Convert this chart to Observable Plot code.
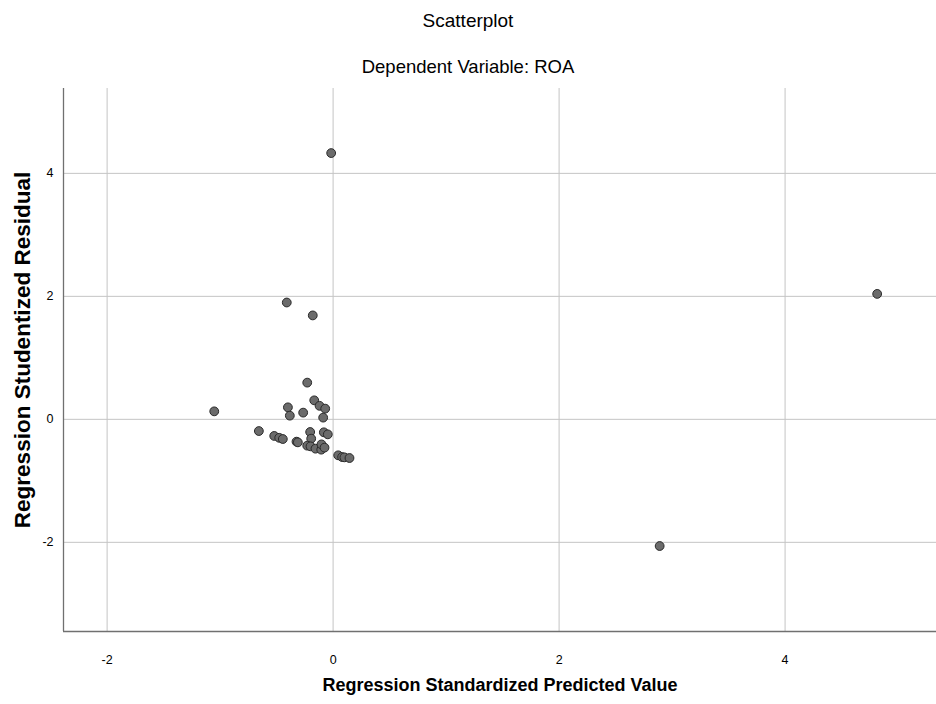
<!DOCTYPE html>
<html>
<head>
<meta charset="utf-8">
<script src="https://cdn.jsdelivr.net/npm/d3@7"></script>
<script src="https://cdn.jsdelivr.net/npm/@observablehq/plot@0.6"></script>
<style>
  html, body { margin: 0; padding: 0; background: #fff; }
  #wrap { position: relative; width: 936px; height: 704px; overflow: hidden; font-family: "Liberation Sans", Arial, sans-serif; }
  .ttl { position: absolute; left: 0; width: 936px; text-align: center; line-height: 1; color: #000; }
  #chart { position: absolute; left: 0; top: 80px; }
</style>
</head>
<body>
<div id="wrap">
  <div class="ttl" style="top:11px;font-size:19px;">Scatterplot</div>
  <div class="ttl" style="top:58px;font-size:18.5px;">Dependent Variable: ROA</div>
  <div id="chart"></div>
</div>
<script>
// Regression Standardized Predicted Value
const predicted = [-0.017, -0.41, -0.18, 4.815, 2.89,
  -0.229, -1.052, -0.40, -0.383, -0.265, -0.167, -0.12, -0.07, -0.088,
  -0.657, -0.521, -0.477, -0.445, -0.324, -0.312, -0.203, -0.194, -0.229,
  -0.20, -0.156, -0.105, -0.082, -0.047, -0.103, -0.076, 0.045, 0.08, 0.10, 0.145];
// Regression Studentized Residual
const residual = [4.33, 1.90, 1.69, 2.04, -2.06,
  0.597, 0.13, 0.195, 0.06, 0.109, 0.309, 0.22, 0.174, 0.028,
  -0.19, -0.27, -0.30, -0.32, -0.363, -0.374, -0.206, -0.314, -0.428,
  -0.439, -0.477, -0.493, -0.211, -0.244, -0.407, -0.46, -0.585, -0.613, -0.618, -0.629];
const xTicks = [-2, 0, 2, 4];
const yTicks = [-2, 0, 2, 4];
const xDomain = [-2.386, 5.34];
const yDomain = [-3.45, 5.38];
const xLabel = "Regression Standardized Predicted Value";
const yLabel = "Regression Studentized Residual";

const data = predicted.map((x, i) => ({x, y: residual[i]}));
const fmt = d => `${d}`;

const chart = Plot.plot({
  width: 936,
  height: 624,
  marginTop: 8,
  marginLeft: 63,
  marginRight: 0,
  marginBottom: 73,
  style: {fontFamily: '"Liberation Sans", Arial, sans-serif', fontSize: "12.5px", color: "#000", background: "#fff"},
  x: {domain: xDomain},
  y: {domain: yDomain},
  marks: [
    Plot.gridX(xTicks, {stroke: "#c4c4c4", strokeOpacity: 1, strokeWidth: 1}),
    Plot.gridY(yTicks, {stroke: "#c4c4c4", strokeOpacity: 1, strokeWidth: 1}),
    Plot.axisX(xTicks, {tickSize: 0, tickPadding: 24, label: null, tickFormat: fmt}),
    Plot.axisY(yTicks, {tickSize: 0, tickPadding: 10, label: null, tickFormat: fmt}),
    Plot.ruleX([xDomain[0]], {stroke: "#707070", strokeWidth: 1.3}),
    Plot.ruleY([yDomain[0]], {stroke: "#707070", strokeWidth: 1.3}),
    Plot.dot(data, {x: "x", y: "y", r: 4.4, fill: "#6b6b6b", stroke: "#2a2a2a", strokeWidth: 1}),
    Plot.text([yLabel], {frameAnchor: "left", textAnchor: "middle", dx: -40.5, dy: -10, rotate: -90, fontSize: 22.5, fontWeight: "bold", fill: "#000"}),
    Plot.text([xLabel], {frameAnchor: "bottom", textAnchor: "middle", dy: 59, fontSize: 18, fontWeight: "bold", fill: "#000"})
  ]
});
document.getElementById("chart").appendChild(chart);
</script>
</body>
</html>
